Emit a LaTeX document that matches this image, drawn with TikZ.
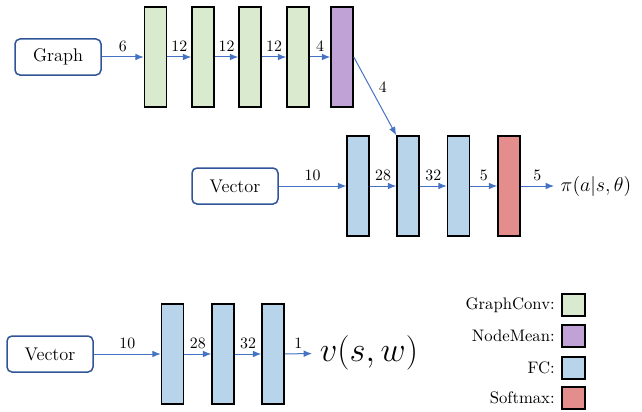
\documentclass[tikz,border=0pt]{standalone}
\usetikzlibrary{arrows.meta}
\definecolor{gcgreen}{HTML}{DAEACF}
\definecolor{nmpurple}{HTML}{C0A2D6}
\definecolor{fcblue}{HTML}{B7D4EA}
\definecolor{smred}{HTML}{E38D8D}
\definecolor{arrblue}{HTML}{4472C4}
\definecolor{boxblue}{HTML}{2F5597}
\begin{document}
\begin{tikzpicture}[x=0.6pt,y=-0.6pt,
  bar/.style={draw=black,line width=0.9pt,minimum width=13.2pt,minimum height=60pt,inner sep=0pt},
  inbox/.style={draw=boxblue,line width=0.9pt,rounded corners=3pt,minimum width=51.6pt,minimum height=21.6pt,inner sep=0pt,font=\fontsize{11}{13}\selectfont},
  conn/.style={draw=arrblue,line width=0.6pt,-{Latex[length=5pt,width=4pt]}},
  lab/.style={font=\fontsize{9.5}{11}\selectfont,inner sep=3pt,above},
  legbox/.style={draw=black,line width=0.9pt,minimum width=13.8pt,minimum height=13.2pt,inner sep=0pt},
  legtext/.style={anchor=east,inner sep=0pt,font=\normalsize}]
\useasboundingbox (0,0) rectangle (642,411);
% top row
\node[inbox] (graph) at (58,57) {Graph};
\node[bar,fill=gcgreen] (g1) at (155.5,57) {};
\node[bar,fill=gcgreen] (g2) at (203,57) {};
\node[bar,fill=gcgreen] (g3) at (250,57) {};
\node[bar,fill=gcgreen] (g4) at (298,57) {};
\node[bar,fill=nmpurple] (nm) at (342,57) {};
\draw[conn] (graph) -- node[lab]{6} (g1);
\draw[conn] (g1) -- node[lab]{12} (g2);
\draw[conn] (g2) -- node[lab]{12} (g3);
\draw[conn] (g3) -- node[lab]{12} (g4);
\draw[conn] (g4) -- node[lab]{4} (nm);
% middle row
\node[inbox] (vec1) at (235,186) {Vector};
\node[bar,fill=fcblue] (f1) at (358,186) {};
\node[bar,fill=fcblue] (f2) at (408,186) {};
\node[bar,fill=fcblue] (f3) at (458.5,186) {};
\node[bar,fill=smred] (sm) at (509,186) {};
\node[anchor=west,inner ysep=0pt,inner xsep=3.8pt,font=\fontsize{12.5}{15}\selectfont] (pi) at (554,186) {$\pi(a|s,\theta)$};
\draw[conn] (vec1) -- node[lab]{10} (f1);
\draw[conn] (f1) -- node[lab]{28} (f2);
\draw[conn] (f2) -- node[lab]{32} (f3);
\draw[conn] (f3) -- node[lab]{5} (sm);
\draw[conn] (sm) -- node[lab]{5} (pi);
\draw[conn] (nm.east) -- node[above right,font=\fontsize{9.5}{11}\selectfont,inner sep=2pt]{4} (f2.north west);
% bottom row
\node[inbox] (vec2) at (50,354) {Vector};
\node[bar,fill=fcblue] (b1) at (172.5,354) {};
\node[bar,fill=fcblue] (b2) at (223,354) {};
\node[bar,fill=fcblue] (b3) at (273,354) {};
\node[anchor=west,inner ysep=0pt,inner xsep=4.5pt,font=\fontsize{21}{25}\selectfont] (v) at (312,353) {$v(s,w)$};
\draw[conn] (vec2) -- node[lab]{10} (b1);
\draw[conn] (b1) -- node[lab]{28} (b2);
\draw[conn] (b2) -- node[lab]{32} (b3);
\draw[conn] (b3) -- node[lab]{1} (v);
% legend
\node[legbox,fill=gcgreen] (lg1) at (573.5,305) {};
\node[legbox,fill=nmpurple] (lg2) at (573.5,336) {};
\node[legbox,fill=fcblue] (lg3) at (573.5,368) {};
\node[legbox,fill=smred] (lg4) at (573.5,398) {};
\node[legtext] (lt1) at (555,305) {GraphConv:};
\node[legtext] (lt2) at (555,336) {NodeMean:};
\node[legtext] (lt3) at (555,368) {FC:};
\node[legtext] (lt4) at (555,398) {Softmax:};
\end{tikzpicture}
\end{document}
